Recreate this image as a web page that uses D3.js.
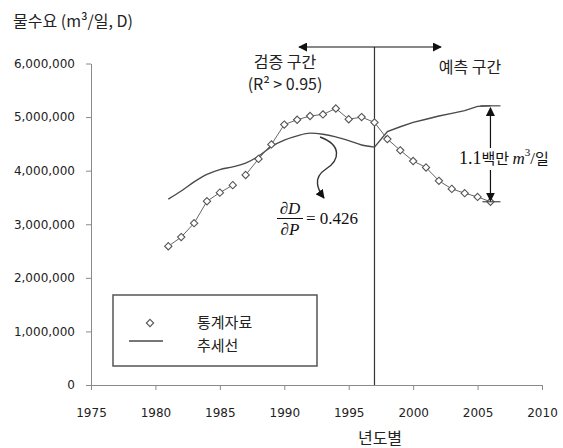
<!DOCTYPE html>
<html>
<head>
<meta charset="utf-8">
<script src="https://cdn.jsdelivr.net/npm/d3@7"></script>
<style>
  body { margin: 0; background: #fff; }
  text { font-family: "Noto Sans CJK KR", "DejaVu Sans", sans-serif; }
  .tick text { font-family: "DejaVu Sans", sans-serif; font-size: 12px; fill: #222; }
  .axis path, .axis line { stroke: #8a8a8a; }
  .serif { font-family: "Liberation Serif", "DejaVu Serif", serif; }
</style>
</head>
<body>
<div id="chart"></div>
<script>
var svgWidth = 563;
var svgHeight = 448;

// statistics (통계자료), m3/day
var statYears = [1981, 1982, 1983, 1984, 1985, 1986, 1987, 1988, 1989, 1990, 1991, 1992, 1993,
  1994, 1995, 1996, 1997, 1998, 1999, 2000, 2001, 2002, 2003, 2004, 2005, 2006];
var statValues = [2590000, 2760000, 3020000, 3430000, 3590000, 3730000, 3920000, 4220000, 4490000,
  4860000, 4950000, 5020000, 5050000, 5160000, 4960000, 5000000, 4900000, 4590000, 4380000,
  4180000, 4060000, 3810000, 3660000, 3580000, 3510000, 3420000];

// trend line (추세선)
var trendYears = statYears;
var trendValues = [3470000, 3620000, 3790000, 3930000, 4020000, 4070000, 4140000, 4270000, 4450000,
  4570000, 4650000, 4700000, 4680000, 4630000, 4560000, 4480000, 4440000, 4730000, 4820000,
  4900000, 4960000, 5020000, 5070000, 5120000, 5200000, 5210000];

var xTicks = [1975, 1980, 1985, 1990, 1995, 2000, 2005, 2010];
var yTicks = [0, 1000000, 2000000, 3000000, 4000000, 5000000, 6000000];
var splitYear = 1997;
var gapAfter = 1986;   // no connecting line between 1986 and 1987

var svg = d3.select("#chart")
  .append("svg")
  .attr("width", svgWidth)
  .attr("height", svgHeight);

var xScale = d3.scaleLinear().domain([1975, 2010]).range([91, 542]);
var yScale = d3.scaleLinear().domain([0, 6000000]).range([385, 63.5]);

var defs = svg.append("defs");
defs.append("marker")
  .attr("id", "arr")
  .attr("viewBox", "0 0 10 10")
  .attr("refX", 9).attr("refY", 5)
  .attr("markerWidth", 9).attr("markerHeight", 9)
  .attr("markerUnits", "userSpaceOnUse")
  .attr("orient", "auto-start-reverse")
  .append("path")
  .attr("d", "M0,0 L10,5 L0,10 Z")
  .attr("fill", "#111");

// axes
var leftAxis = d3.axisLeft(yScale).tickValues(yTicks).tickSize(5).tickSizeOuter(0)
  .tickFormat(d3.format(","));
var bottomAxis = d3.axisBottom(xScale).tickValues(xTicks).tickSize(5).tickSizeOuter(0)
  .tickFormat(d3.format("d"));

svg.append("g")
  .attr("class", "axis")
  .attr("transform", "translate(91,0)")
  .call(leftAxis)
  .call(g => g.selectAll(".tick text").attr("x", -16));

svg.append("g")
  .attr("class", "axis")
  .attr("transform", "translate(0,385)")
  .call(bottomAxis)
  .call(g => g.selectAll(".tick text").attr("y", 23));

// vertical split line
svg.append("line")
  .attr("x1", xScale(splitYear)).attr("x2", xScale(splitYear))
  .attr("y1", 47).attr("y2", yScale(0))
  .attr("stroke", "#333").attr("stroke-width", 1.2);

// horizontal double arrow
svg.append("line")
  .attr("x1", 299).attr("x2", 441)
  .attr("y1", 47).attr("y2", 47)
  .attr("stroke", "#111").attr("stroke-width", 1.2)
  .attr("marker-start", "url(#arr)")
  .attr("marker-end", "url(#arr)");

// trend line
var trendData = d3.zip(trendYears, trendValues);
svg.append("path")
  .datum(trendData.filter(d => d[0] <= splitYear))
  .attr("d", d3.line().x(d => xScale(d[0])).y(d => yScale(d[1])).curve(d3.curveMonotoneX))
  .attr("fill", "none").attr("stroke", "#4a4a4a").attr("stroke-width", 1.4);
svg.append("path")
  .datum(trendData.filter(d => d[0] >= splitYear))
  .attr("d", d3.line().x(d => xScale(d[0])).y(d => yScale(d[1])))
  .attr("fill", "none").attr("stroke", "#4a4a4a").attr("stroke-width", 1.4);

// statistics line with gap
var statData = d3.zip(statYears, statValues);
var statLine = d3.line().x(d => xScale(d[0])).y(d => yScale(d[1]));
[statData.filter(d => d[0] <= gapAfter), statData.filter(d => d[0] > gapAfter)].forEach(function(seg) {
  svg.append("path")
    .datum(seg)
    .attr("d", statLine)
    .attr("fill", "none").attr("stroke", "#666").attr("stroke-width", 1);
});

var diamond = d3.symbol().type(d3.symbolDiamond2).size(34);
svg.selectAll(".pt")
  .data(statData)
  .enter()
  .append("path")
  .attr("class", "pt")
  .attr("transform", d => `translate(${xScale(d[0])},${yScale(d[1])})`)
  .attr("d", diamond)
  .attr("fill", "#fff").attr("stroke", "#555").attr("stroke-width", 1.1);

// 1.1 million annotation
var endYear = statYears[statYears.length - 1];
var ax = xScale(endYear);
var topV = trendValues[trendValues.length - 1];
var botV = statValues[statValues.length - 1];
svg.append("line")
  .attr("x1", ax - 10).attr("x2", ax + 10)
  .attr("y1", yScale(topV)).attr("y2", yScale(topV))
  .attr("stroke", "#4a4a4a").attr("stroke-width", 1.2);
svg.append("line")
  .attr("x1", ax - 8).attr("x2", ax + 10)
  .attr("y1", yScale(botV)).attr("y2", yScale(botV))
  .attr("stroke", "#4a4a4a").attr("stroke-width", 1.2);
svg.append("line")
  .attr("x1", ax).attr("x2", ax)
  .attr("y1", yScale(topV) + 2).attr("y2", yScale(botV) - 1)
  .attr("stroke", "#111").attr("stroke-width", 1.2)
  .attr("marker-start", "url(#arr)")
  .attr("marker-end", "url(#arr)");

svg.append("rect").attr("x", 458).attr("y", 148).attr("width", 94).attr("height", 22).attr("fill", "#fff");
var ann = svg.append("text").attr("x", 459).attr("y", 164).attr("font-size", 15).attr("fill", "#111");
ann.append("tspan").attr("class", "serif").attr("font-size", 18).text("1.1");
ann.append("tspan").text("백만 ");
ann.append("tspan").attr("class", "serif").attr("font-style", "italic").attr("font-size", 17).text("m");
ann.append("tspan").attr("class", "serif").attr("font-size", 11).attr("dy", -8).text("3");
ann.append("tspan").attr("class", "serif").attr("font-size", 17).attr("dy", 8).text("/");
ann.append("tspan").text("일");

// curved arrow to elasticity label
svg.append("path")
  .attr("d", "M320,137 C342,145 340,160 326,169 C312,178 318,190 324,198")
  .attr("fill", "none").attr("stroke", "#333").attr("stroke-width", 1.4)
  .attr("marker-end", "url(#arr)");

var frac = svg.append("g").attr("fill", "#111");
frac.append("text").attr("class", "serif").attr("x", 290).attr("y", 214)
  .attr("text-anchor", "middle").attr("font-size", 17)
  .html('∂<tspan font-style="italic">D</tspan>');
frac.append("line").attr("x1", 277).attr("x2", 303).attr("y1", 218.5).attr("y2", 218.5)
  .attr("stroke", "#111").attr("stroke-width", 1);
frac.append("text").attr("class", "serif").attr("x", 290).attr("y", 235)
  .attr("text-anchor", "middle").attr("font-size", 17)
  .html('∂<tspan font-style="italic">P</tspan>');
frac.append("text").attr("class", "serif").attr("x", 306).attr("y", 224)
  .attr("font-size", 17).text("= 0.426");

// section labels
svg.append("text").attr("x", 285).attr("y", 68).attr("text-anchor", "middle")
  .attr("font-size", 16).attr("fill", "#222").text("검증 구간");
svg.append("text").attr("x", 285).attr("y", 90).attr("text-anchor", "middle")
  .attr("font-size", 16).attr("fill", "#222").text("(R² > 0.95)");
svg.append("text").attr("x", 470).attr("y", 73).attr("text-anchor", "middle")
  .attr("font-size", 16).attr("fill", "#222").text("예측 구간");

// titles
svg.append("text").attr("x", 13).attr("y", 27)
  .attr("font-size", 16).attr("fill", "#222").text("물수요 (m³/일, D)");
svg.append("text").attr("x", 380).attr("y", 444).attr("text-anchor", "middle")
  .attr("font-size", 16).attr("fill", "#222").text("년도별");

// legend
var legend = svg.append("g");
legend.append("rect")
  .attr("x", 113).attr("y", 295).attr("width", 204).attr("height", 71)
  .attr("fill", "#fff").attr("stroke", "#555").attr("stroke-width", 1.5);
legend.append("path")
  .attr("transform", "translate(150,323)")
  .attr("d", diamond)
  .attr("fill", "#fff").attr("stroke", "#555").attr("stroke-width", 1.1);
legend.append("line")
  .attr("x1", 129).attr("x2", 163).attr("y1", 341).attr("y2", 341)
  .attr("stroke", "#4a4a4a").attr("stroke-width", 1.4);
legend.append("text").attr("x", 197).attr("y", 328).attr("font-size", 15).attr("fill", "#222").text("통계자료");
legend.append("text").attr("x", 197).attr("y", 351).attr("font-size", 15).attr("fill", "#222").text("추세선");
</script>
</body>
</html>
